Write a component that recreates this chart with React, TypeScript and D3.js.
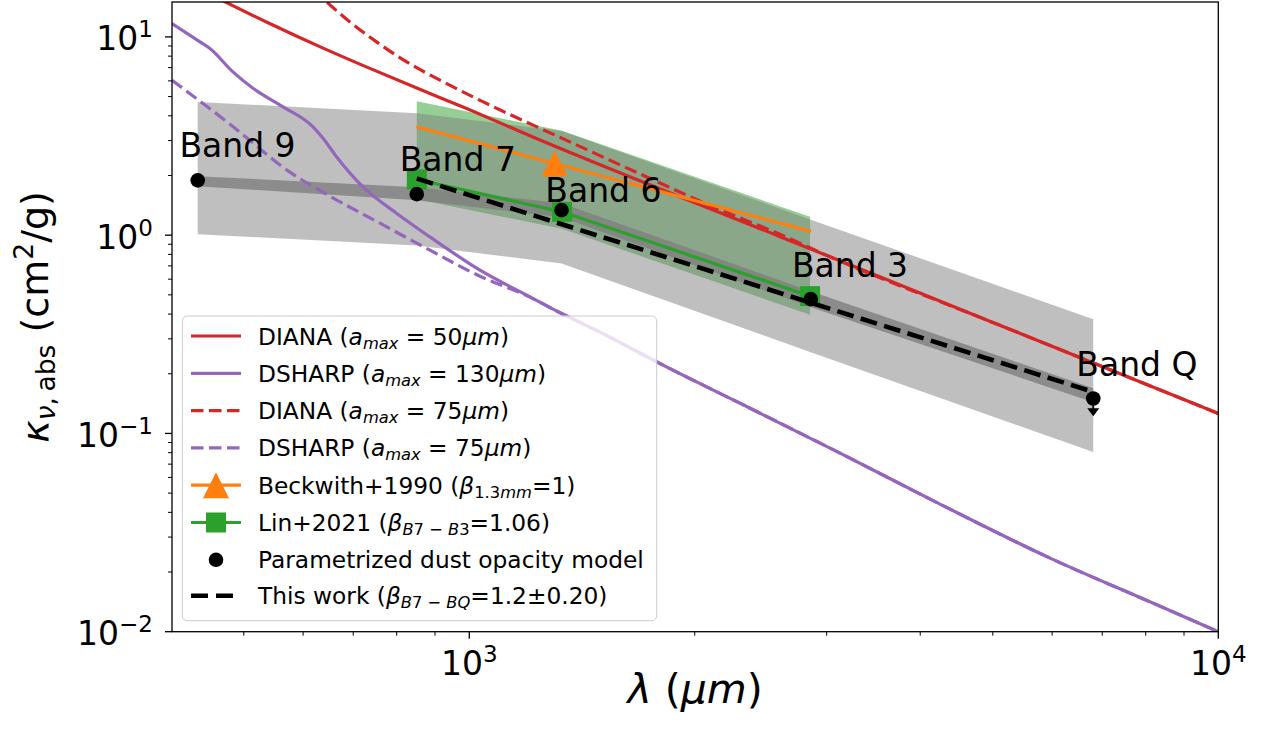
import React from "react";
import * as d3 from "d3";

// ---------------- data ----------------
const bandNames = ["Band 9", "Band 7", "Band 6", "Band 3", "Band Q"];
const bandLam = [434, 851, 1328, 2857, 6809];
const modelKappa = [1.89, 1.61, 1.337, 0.476, 0.15];
const wideUpper = [4.7, 4.12, 3.35, 1.197, 0.377];
const wideLower = [1.012, 0.886, 0.72, 0.257, 0.0805];
const narrowUpper = [1.984, 1.746, 1.45, 0.522, 0.169];
const narrowLower = [1.766, 1.501, 1.232, 0.4335, 0.1438];
const labelLam = [414, 815, 1275, 2721, 6523];
const labelKappa = [2.48, 2.1, 1.472, 0.616, 0.1945];
const bandQLimitKappa = 0.122;

const linLam = [851, 1330, 2851];
const linKappa = [1.91, 1.311, 0.4926];
const linUpper = [4.74, 3.365, 1.237];
const linLower = [1.519, 1.078, 0.3963];

const beckLam = [850, 2860];
const beckKappa = [3.52, 1.045];
const beckMarkLam = [1300];
const beckMarkKappa = [2.3];

const thisLam = [851, 6809];
const thisKappa = [1.932, 0.162];

const diana50Lam = [450, 536, 638, 730, 851, 992, 1216, 2600, 5000, 10000];
const diana50Kappa = [16.44, 11.89, 8.78, 7.04, 5.52, 4.35, 3.13, 0.983, 0.363, 0.1262];

const diana75Lam = [620, 693, 752, 825, 914, 1044, 1217, 1308, 1743, 2161, 2598, 3031, 5000, 10000];
const diana75Kappa = [17.2, 11.9, 9.44, 7.48, 6.05, 4.7, 3.59, 3.17, 1.932, 1.343, 1.012, 0.778, 0.363, 0.1262];

const dsharp130Lam = [401, 437, 450.6, 483.6, 514.3, 564.1, 618.5, 638.4, 665.3, 721.4, 800.2, 886.1, 1033.4, 1205.2, 1301.5, 1494.5, 1825, 2298, 3126, 4251, 5962, 8104, 10000];
const dsharp130Kappa = [11.68, 9.44, 8.74, 6.66, 5.51, 4.44, 3.52, 3.073, 2.48, 1.752, 1.287, 0.98, 0.666, 0.4886, 0.4184, 0.3241, 0.2185, 0.1421, 0.0796, 0.044, 0.0235, 0.01415, 0.01];

const dsharp75Lam = [401, 479.2, 576.3, 651.6, 760, 886.1, 1033.4, 1205.2, 1301.5, 1494.5, 1825, 2298, 3126, 4251, 5962, 8104, 10000];
const dsharp75Kappa = [6.05, 3.63, 2.078, 1.573, 1.149, 0.84, 0.621, 0.487, 0.4184, 0.3241, 0.2185, 0.1421, 0.0796, 0.044, 0.0235, 0.01415, 0.01];

const xTickExp = [3, 4];
const yTickExp = [-2, -1, 0, 1];

// ---------------- styles ----------------
const FONT = "'DejaVu Sans', 'Liberation Sans', sans-serif";
const RED = "#d62728";
const PURPLE = "#9467bd";
const ORANGE = "#ff7f0e";
const GREEN = "#2ca02c";
const LW = 3.2;
const DASH = "12.5,5.5";

const L = 172, R = 1218.3, T = 2, B = 631.7;

export default function App() {
  const x = d3.scaleLog().domain([401, 10000]).range([L, R]);
  const y = d3.scaleLog().domain([0.01, 15]).range([B, T]);

  const mkLine = (lam: number[], k: number[], curve: any = d3.curveMonotoneX) =>
    d3.line<number>().x((d) => x(d)).y((_, i) => y(k[i])).curve(curve)(lam) || "";
  const mkArea = (lam: number[], lo: number[], hi: number[]) =>
    d3.area<number>().x((d) => x(d)).y0((_, i) => y(lo[i])).y1((_, i) => y(hi[i]))(lam) || "";

  const xMinor: number[] = [];
  [100, 1000].forEach((base) => {
    for (let m = 2; m <= 9; m++) {
      const v = base * m;
      if (v > 401 && v < 10000) xMinor.push(v);
    }
  });
  const yMinor: number[] = [];
  [0.01, 0.1, 1, 10].forEach((base) => {
    for (let m = 2; m <= 9; m++) {
      const v = base * m;
      if (v < 15) yMinor.push(v);
    }
  });

  const triPath = (cx: number, cy: number, s: number) =>
    `M${cx},${cy - s / 2}L${cx + s / 2},${cy + s / 2}L${cx - s / 2},${cy + s / 2}Z`;

  // legend
  const legX = 182.3, legY = 316, legW = 474.4, legH = 304.7;
  const rowY = (i: number) => 336 + i * 37.3 - (i === 7 ? 1.4 : 0);
  const hx0 = 191, hx1 = 241, tx = 258;
  const LF = 23.3;
  const SUB = LF * 0.7;

  const qIdx = bandLam.length - 1;
  const qx = x(bandLam[qIdx]);
  const qTip = y(bandQLimitKappa);

  return (
    <svg width={1262} height={738} style={{ position: "absolute", left: 0, top: 0, background: "#fff" }} fontFamily={FONT}>
      <defs>
        <clipPath id="plot">
          <rect x={L} y={T} width={R - L} height={B - T} />
        </clipPath>
      </defs>
      <rect x={0} y={0} width={1262} height={738} fill="#fff" />
      <g clipPath="url(#plot)">
        {/* Lin+2021 band */}
        <path d={mkArea(linLam, linLower, linUpper)} fill={GREEN} fillOpacity={0.5} />
        {/* parametrized model bands */}
        <path d={mkArea(bandLam, wideLower, wideUpper)} fill="#808080" fillOpacity={0.5} />
        <path d={mkArea(bandLam, narrowLower, narrowUpper)} fill="#808080" fillOpacity={0.8} />
        {/* opacity curves */}
        <path d={mkLine(diana50Lam, diana50Kappa)} fill="none" stroke={RED} strokeWidth={LW} />
        <path d={mkLine(dsharp130Lam, dsharp130Kappa)} fill="none" stroke={PURPLE} strokeWidth={LW} />
        <path d={mkLine(diana75Lam, diana75Kappa)} fill="none" stroke={RED} strokeWidth={LW} strokeDasharray={DASH} />
        <path d={mkLine(dsharp75Lam, dsharp75Kappa)} fill="none" stroke={PURPLE} strokeWidth={LW} strokeDasharray={DASH} />
        {/* Beckwith */}
        <path d={mkLine(beckLam, beckKappa, d3.curveLinear)} fill="none" stroke={ORANGE} strokeWidth={LW} />
        {beckMarkLam.map((l, i) => (
          <path key={i} d={triPath(x(l), y(beckMarkKappa[i]), 26)} fill={ORANGE} />
        ))}
        {/* Lin */}
        <path d={mkLine(linLam, linKappa, d3.curveLinear)} fill="none" stroke={GREEN} strokeWidth={LW} />
        {linLam.map((l, i) => (
          <rect key={i} x={x(l) - 10} y={y(linKappa[i]) - 10} width={20} height={20} fill={GREEN} />
        ))}
        {/* model dots */}
        {bandLam.map((l, i) => (
          <circle key={i} cx={x(l)} cy={y(modelKappa[i])} r={7.3} fill="#000" />
        ))}
        {/* upper limit arrow at Band Q */}
        <line x1={qx} x2={qx} y1={y(modelKappa[qIdx])} y2={qTip - 6} stroke="#000" strokeWidth={1.8} />
        <path d={`M${qx - 6},${qTip - 8}L${qx + 6},${qTip - 8}L${qx},${qTip}Z`} fill="#000" />
        {/* this work */}
        <path d={mkLine(thisLam, thisKappa, d3.curveLinear)} fill="none" stroke="#000" strokeWidth={4.6} strokeDasharray="17,7.5" />
        {/* band labels */}
        {bandNames.map((n, i) => (
          <text key={n} x={x(labelLam[i]) - 3} y={y(labelKappa[i])} fontSize={33} fill="#000">
            {n}
          </text>
        ))}
      </g>

      {/* spines */}
      <rect x={L} y={T} width={R - L} height={B - T} fill="none" stroke="#000" strokeWidth={1.3} />

      {/* x ticks */}
      {xTickExp.map((e) => {
        const px = x(Math.pow(10, e));
        return (
          <g key={e}>
            <line x1={px} x2={px} y1={B} y2={B + 7} stroke="#000" strokeWidth={1.3} />
            <text x={px} y={B + 43} fontSize={33} textAnchor="middle" fill="#000">
              10<tspan fontSize={23} dy={-13}>{String(e)}</tspan>
            </text>
          </g>
        );
      })}
      {xMinor.map((v) => (
        <line key={v} x1={x(v)} x2={x(v)} y1={B} y2={B + 4} stroke="#000" strokeWidth={1} />
      ))}
      {/* y ticks */}
      {yTickExp.map((e) => {
        const py = y(Math.pow(10, e));
        return (
          <g key={e}>
            <line x1={L - 7} x2={L} y1={py} y2={py} stroke="#000" strokeWidth={1.3} />
            <text x={153} y={py + 13.5} fontSize={33} textAnchor="end" fill="#000">
              10<tspan fontSize={23} dy={-13}>{e < 0 ? "\u2212" + String(-e) : String(e)}</tspan>
            </text>
          </g>
        );
      })}
      {yMinor.map((v) => (
        <line key={v} x1={L - 4} x2={L} y1={y(v)} y2={y(v)} stroke="#000" strokeWidth={1} />
      ))}

      {/* axis labels */}
      <text x={(L + R) / 2} y={703} fontSize={41} textAnchor="middle" fill="#000">
        <tspan fontStyle="italic">λ</tspan> (<tspan fontStyle="italic">μm</tspan>)
      </text>
      <text transform={`translate(48,${(T + B) / 2}) rotate(-90)`} fontSize={38} textAnchor="middle" fill="#000">
        <tspan fontStyle="italic">κ</tspan>
        <tspan fontSize={26.6} dy={7}>
          <tspan fontStyle="italic">ν</tspan>,{"\u2009"}abs
        </tspan>
        <tspan dy={-7}> (cm</tspan>
        <tspan fontSize={26.6} dy={-15}>2</tspan>
        <tspan dy={15}>/g)</tspan>
      </text>

      {/* legend */}
      <g>
        <rect x={legX} y={legY} width={legW} height={legH} rx={5} fill="#fff" fillOpacity={0.8} stroke="#cccccc" strokeWidth={1} />
        {/* handles */}
        <line x1={hx0} x2={hx1} y1={rowY(0)} y2={rowY(0)} stroke={RED} strokeWidth={LW} />
        <line x1={hx0} x2={hx1} y1={rowY(1)} y2={rowY(1)} stroke={PURPLE} strokeWidth={LW} />
        <line x1={hx0} x2={hx1} y1={rowY(2)} y2={rowY(2)} stroke={RED} strokeWidth={LW} strokeDasharray={DASH} />
        <line x1={hx0} x2={hx1} y1={rowY(3)} y2={rowY(3)} stroke={PURPLE} strokeWidth={LW} strokeDasharray={DASH} />
        <line x1={hx0} x2={hx1} y1={rowY(4)} y2={rowY(4)} stroke={ORANGE} strokeWidth={LW} />
        <path d={triPath((hx0 + hx1) / 2, rowY(4), 26)} fill={ORANGE} />
        <line x1={hx0} x2={hx1} y1={rowY(5)} y2={rowY(5)} stroke={GREEN} strokeWidth={LW} />
        <rect x={(hx0 + hx1) / 2 - 10} y={rowY(5) - 10} width={20} height={20} fill={GREEN} />
        <circle cx={(hx0 + hx1) / 2} cy={rowY(6)} r={7.3} fill="#000" />
        <line x1={hx0} x2={hx1} y1={rowY(7)} y2={rowY(7)} stroke="#000" strokeWidth={4.6} strokeDasharray="17,8" />
        {/* labels */}
        <g fontSize={LF} fill="#000">
          <text x={tx} y={rowY(0) + 8.5}>
            DIANA (<tspan fontStyle="italic">a</tspan>
            <tspan fontSize={SUB} fontStyle="italic" dy={4}>max</tspan>
            <tspan dy={-4}> = 50</tspan>
            <tspan fontStyle="italic">μm</tspan>)
          </text>
          <text x={tx} y={rowY(1) + 8.5}>
            DSHARP (<tspan fontStyle="italic">a</tspan>
            <tspan fontSize={SUB} fontStyle="italic" dy={4}>max</tspan>
            <tspan dy={-4}> = 130</tspan>
            <tspan fontStyle="italic">μm</tspan>)
          </text>
          <text x={tx} y={rowY(2) + 8.5}>
            DIANA (<tspan fontStyle="italic">a</tspan>
            <tspan fontSize={SUB} fontStyle="italic" dy={4}>max</tspan>
            <tspan dy={-4}> = 75</tspan>
            <tspan fontStyle="italic">μm</tspan>)
          </text>
          <text x={tx} y={rowY(3) + 8.5}>
            DSHARP (<tspan fontStyle="italic">a</tspan>
            <tspan fontSize={SUB} fontStyle="italic" dy={4}>max</tspan>
            <tspan dy={-4}> = 75</tspan>
            <tspan fontStyle="italic">μm</tspan>)
          </text>
          <text x={tx} y={rowY(4) + 8.5}>
            Beckwith+1990 (<tspan fontStyle="italic">β</tspan>
            <tspan fontSize={SUB} dy={4}>1.3<tspan fontStyle="italic">mm</tspan></tspan>
            <tspan dy={-4}>=1)</tspan>
          </text>
          <text x={tx} y={rowY(5) + 8.5}>
            Lin+2021 (<tspan fontStyle="italic">β</tspan>
            <tspan fontSize={SUB} dy={4}><tspan fontStyle="italic">B</tspan>7 − <tspan fontStyle="italic">B</tspan>3</tspan>
            <tspan dy={-4}>=1.06)</tspan>
          </text>
          <text x={tx} y={rowY(6) + 8.5}>Parametrized dust opacity model</text>
          <text x={tx} y={rowY(7) + 8.5}>
            This work (<tspan fontStyle="italic">β</tspan>
            <tspan fontSize={SUB} dy={4}><tspan fontStyle="italic">B</tspan>7 − <tspan fontStyle="italic">BQ</tspan></tspan>
            <tspan dy={-4}>=1.2±0.20)</tspan>
          </text>
        </g>
      </g>
    </svg>
  );
}
